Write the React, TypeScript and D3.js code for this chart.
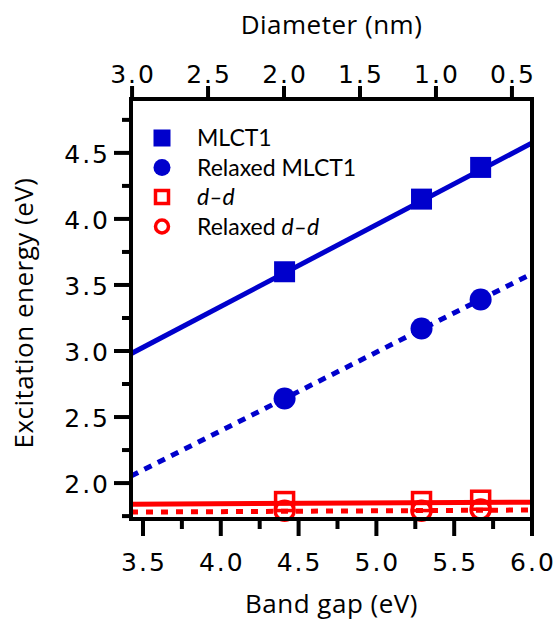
import React from 'react';
import * as d3 from 'd3';

// band gap (eV) of the three clusters
const bandGap = [4.41, 5.29, 5.67];
// excitation energies (eV)
const mlct1 = [3.6, 4.15, 4.39];
const relaxedMlct1 = [2.64, 3.17, 3.39];
const dd = [1.86, 1.86, 1.87];
const relaxedDd = [1.79, 1.79, 1.8];
// linear fits: [intercept, slope]
const fitMlct1 = [0.861, 0.619];
const fitRelaxedMlct1 = [0.016, 0.595];
const fitDd = [1.82, 0.0058];
const fitRelaxedDd = [1.759, 0.0062];

const bottomTicks = [3.5, 4.0, 4.5, 5.0, 5.5, 6.0];
const bottomMinor = [3.75, 4.25, 4.75, 5.25, 5.75];
const leftTicks = [2.0, 2.5, 3.0, 3.5, 4.0, 4.5];
const leftMinor = [1.75, 2.25, 2.75, 3.25, 3.75, 4.25, 4.75];
const topTicks = [3.0, 2.5, 2.0, 1.5, 1.0, 0.5];

const App = () => {
  const width = 557;
  const height = 620;
  const margin = { top: 99, right: 25, bottom: 101, left: 131 };
  const blue = '#0000CC';
  const red = '#FF0000';
  const tickFont = '"DejaVu Sans", sans-serif';
  const titleFont = '"Open Sans", "DejaVu Sans", sans-serif';
  const legendFont = 'Lato, "DejaVu Sans", sans-serif';

  const x = d3
    .scaleLinear()
    .domain([3.423, 6.0])
    .range([margin.left, width - margin.right]);
  const xTop = d3
    .scaleLinear()
    .domain([3.007, 0.368])
    .range([margin.left, width - margin.right]);
  const y = d3
    .scaleLinear()
    .domain([1.728, 4.908])
    .range([height - margin.bottom, margin.top]);

  const [x0, x1] = x.domain();
  const fitLine = (fit: number[]) =>
    d3
      .line<number>()
      .x(d => x(d))
      .y(d => y(fit[0] + fit[1] * d))([x0, x1]);

  const left = margin.left;
  const right = width - margin.right;
  const top = margin.top;
  const bottom = height - margin.bottom;

  const legend = [
    { label: 'MLCT1', shape: 'square', filled: true, color: blue },
    { label: 'Relaxed MLCT1', shape: 'circle', filled: true, color: blue },
    { label: 'dd', shape: 'square', filled: false, color: red },
    { label: 'Relaxed dd', shape: 'circle', filled: false, color: red },
  ];

  const sq = 21;
  const r = 11;

  return (
    <svg
      width={width}
      height={height}
      style={{ position: 'absolute', left: 0, top: 0, background: '#fff' }}
    >
      <defs>
        <clipPath id='plot'>
          <rect x={left} y={top} width={right - left} height={bottom - top} />
        </clipPath>
      </defs>

      <g clipPath='url(#plot)'>
        <path d={fitLine(fitMlct1)!} fill='none' stroke={blue} strokeWidth={5} />
        <path
          d={fitLine(fitRelaxedMlct1)!}
          fill='none'
          stroke={blue}
          strokeWidth={5}
          strokeDasharray='8 7'
        />
        <path d={fitLine(fitDd)!} fill='none' stroke={red} strokeWidth={5} />
        <path
          d={fitLine(fitRelaxedDd)!}
          fill='none'
          stroke={red}
          strokeWidth={5}
          strokeDasharray='7 8'
        />
      </g>

      {bandGap.map((b, i) => (
        <rect
          key={`mlct-${i}`}
          x={x(b) - sq / 2}
          y={y(mlct1[i]) - sq / 2}
          width={sq}
          height={sq}
          fill={blue}
        />
      ))}
      {bandGap.map((b, i) => (
        <circle key={`rmlct-${i}`} cx={x(b)} cy={y(relaxedMlct1[i])} r={r} fill={blue} />
      ))}
      {bandGap.map((b, i) => (
        <rect
          key={`dd-${i}`}
          x={x(b) - 9}
          y={y(dd[i]) - 9}
          width={18}
          height={18}
          fill='none'
          stroke={red}
          strokeWidth={3.5}
        />
      ))}
      {bandGap.map((b, i) => (
        <circle
          key={`rdd-${i}`}
          cx={x(b)}
          cy={y(relaxedDd[i])}
          r={9.5}
          fill='none'
          stroke={red}
          strokeWidth={3.5}
        />
      ))}

      {/* frame */}
      <rect
        x={left}
        y={top}
        width={right - left}
        height={bottom - top}
        fill='none'
        stroke='#000'
        strokeWidth={4}
      />

      {/* bottom axis */}
      {bottomTicks.map(t => (
        <g key={`bt-${t}`}>
          <line x1={x(t)} x2={x(t)} y1={bottom} y2={bottom + 17} stroke='#000' strokeWidth={4} />
          <text
            x={x(t) + 1}
            y={bottom + 52}
            textAnchor='middle'
            fontFamily={tickFont}
            fontSize={25}
            letterSpacing={2}
          >
            {t.toFixed(1)}
          </text>
        </g>
      ))}
      {bottomMinor.map(t => (
        <line key={`bm-${t}`} x1={x(t)} x2={x(t)} y1={bottom} y2={bottom + 10} stroke='#000' strokeWidth={4} />
      ))}
      <text
        x={(left + right) / 2}
        y={613}
        textAnchor='middle'
        fontFamily={titleFont}
        fontSize={26}
        letterSpacing={0.5}
      >
        Band gap (eV)
      </text>

      {/* left axis */}
      {leftTicks.map(t => (
        <g key={`lt-${t}`}>
          <line x1={left} x2={left - 17} y1={y(t)} y2={y(t)} stroke='#000' strokeWidth={4} />
          <text
            x={left - 21}
            y={y(t) + 10}
            textAnchor='end'
            fontFamily={tickFont}
            fontSize={25}
            letterSpacing={2}
          >
            {t.toFixed(1)}
          </text>
        </g>
      ))}
      {leftMinor.map(t => (
        <line key={`lm-${t}`} x1={left} x2={left - 9} y1={y(t)} y2={y(t)} stroke='#000' strokeWidth={4} />
      ))}
      <text
        transform={`translate(33, 313) rotate(-90)`}
        textAnchor='middle'
        fontFamily={titleFont}
        fontSize={26}
        letterSpacing={0.5}
      >
        Excitation energy (eV)
      </text>

      {/* top axis */}
      {topTicks.map(t => (
        <g key={`tt-${t}`}>
          <line x1={xTop(t)} x2={xTop(t)} y1={top} y2={top - 13} stroke='#000' strokeWidth={4} />
          <text
            x={xTop(t) + 1}
            y={top - 16}
            textAnchor='middle'
            fontFamily={tickFont}
            fontSize={25}
            letterSpacing={2}
          >
            {t.toFixed(1)}
          </text>
        </g>
      ))}
      <text
        x={(left + right) / 2}
        y={34}
        textAnchor='middle'
        fontFamily={titleFont}
        fontSize={26}
        letterSpacing={0.5}
      >
        Diameter (nm)
      </text>

      {/* legend */}
      {legend.map((d, i) => {
        const ly = 138 + i * 29.5;
        const lx = 162;
        return (
          <g key={`lg-${i}`}>
            {d.shape === 'square' ? (
              d.filled ? (
                <rect x={lx - 8.5} y={ly - 8.5} width={17} height={17} fill={d.color} />
              ) : (
                <rect
                  x={lx - 6.5}
                  y={ly - 6.5}
                  width={13}
                  height={13}
                  fill='none'
                  stroke={d.color}
                  strokeWidth={3.5}
                />
              )
            ) : d.filled ? (
              <circle cx={lx} cy={ly} r={8.5} fill={d.color} />
            ) : (
              <circle cx={lx} cy={ly} r={6.5} fill='none' stroke={d.color} strokeWidth={3.5} />
            )}
            <text x={197} y={ly + 8} fontFamily={legendFont} fontSize={23}>
              {d.label === 'dd' ? (
                <tspan fontStyle='italic'>d–d</tspan>
              ) : d.label === 'Relaxed dd' ? (
                <>
                  Relaxed <tspan fontStyle='italic'>d–d</tspan>
                </>
              ) : (
                d.label
              )}
            </text>
          </g>
        );
      })}
    </svg>
  );
};

export default App;
